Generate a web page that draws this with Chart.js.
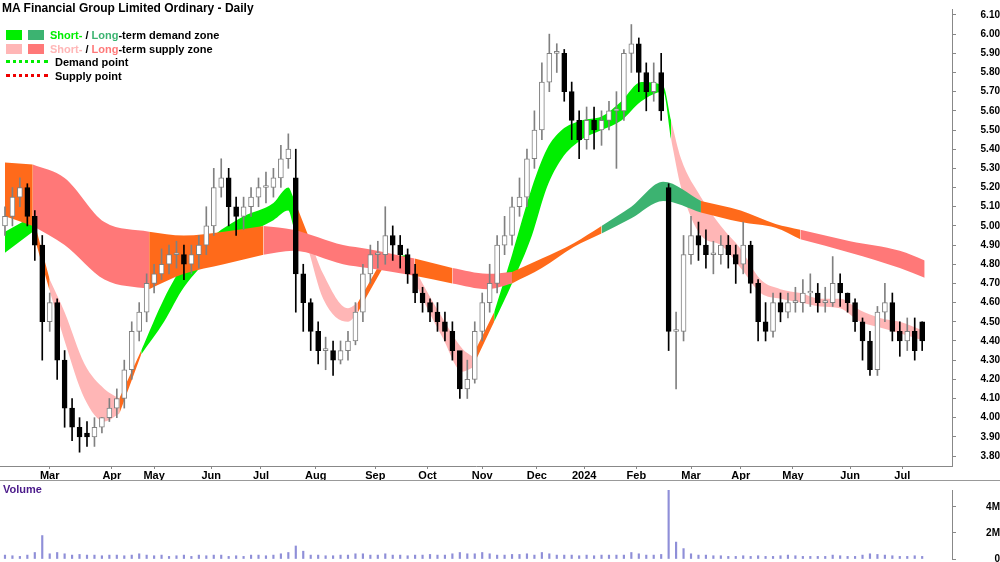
<!DOCTYPE html>
<html>
<head>
<meta charset="utf-8">
<script src="https://cdn.jsdelivr.net/npm/chart.js@4.4.0/dist/chart.umd.min.js"></script>
<style>
  body { margin: 0; background: #fff; font-family: Arial, "Liberation Sans", sans-serif; }
  #wrap { position: relative; width: 1000px; height: 562px; overflow: hidden; }
  #priceBox { position: absolute; left: 0; top: 0; width: 1000px; height: 480px; }
  #volBox { position: absolute; left: 0; top: 481px; width: 1000px; height: 87px; }
  #sep { position: absolute; left: 0; top: 480px; width: 1000px; height: 1px; background: #999; }
  #title { position: absolute; left: 2px; top: 1px; font-size: 12px; font-weight: bold; }
  #legend { position: absolute; left: 6px; top: 29px; font-size: 11px; font-weight: bold; line-height: 13.5px; }
  #legend .sw { display: inline-block; width: 16px; height: 10px; margin-right: 6px; vertical-align: -1px; }
  #legend .dot { display: inline-block; width: 42px; height: 0; border-top: 3px dotted; margin-right: 7px; vertical-align: 3px; }
  #volLabel { position: absolute; left: 3px; top: 483px; font-size: 11px; font-weight: bold; color: #4b1a8a; }
</style>
</head>
<body>
<div id="wrap">
  <div id="priceBox"><canvas id="priceChart"></canvas></div>
  <div id="sep"></div>
  <div id="volBox"><canvas id="volChart"></canvas></div>
  <div id="title">MA Financial Group Limited Ordinary - Daily</div>
  <div id="legend">
    <div><span class="sw" style="background:#00ee00"></span><span class="sw" style="background:#3cb371"></span><span style="color:#00ee00">Short-</span> / <span style="color:#3cb371">Long</span>-term demand zone</div>
    <div><span class="sw" style="background:#ffb6b6"></span><span class="sw" style="background:#ff7878"></span><span style="color:#ffb6b6">Short-</span> / <span style="color:#ff7878">Long</span>-term supply zone</div>
    <div><span class="dot" style="border-color:#00ee00"></span>Demand point</div>
    <div><span class="dot" style="border-color:#ee0000"></span>Supply point</div>
  </div>
  <div id="volLabel">Volume</div>
</div>
<script>
// 蠟燭 (每3個交易日一根)
var opens = [5.00,5.05,5.15,5.20,5.05,4.90,4.50,4.60,4.30,4.05, 3.95,3.92,3.90,3.95,4.00,4.05,4.10,4.25,4.45,4.55,
  4.70,4.75,4.80,4.85,4.85,4.80,4.85,4.90,5.00,5.20, 5.25,5.10,5.05,5.10,5.15,5.20,5.20,5.25,5.35,5.25,
  4.75,4.60,4.45,4.35,4.35,4.30,4.35,4.40,4.55,4.75, 4.85,4.85,4.95,4.90,4.85,4.75,4.65,4.60,4.55,4.50,
  4.45,4.35,4.15,4.20,4.45,4.60,4.70,4.90,4.95,5.10, 5.15,5.35,5.50,5.75,5.90,5.90,5.70,5.55,5.45,5.55,
  5.50,5.55,5.60,5.60,5.90,5.95,5.80,5.70,5.80,5.20, 4.45,4.45,4.85,4.95,4.90,4.85,4.85,4.90,4.85,4.80,
  4.90,4.70,4.50,4.45,4.60,4.55,4.60,4.60,4.65,4.65, 4.60,4.60,4.70,4.65,4.60,4.50,4.40,4.25,4.55,4.60,
  4.45,4.40,4.45,4.50];
var closes = [5.05,5.15,5.20,5.05,4.90,4.50,4.60,4.30,4.05,3.95, 3.90,3.90,3.95,4.00,4.05,4.10,4.25,4.45,4.55,4.70,
  4.75,4.80,4.85,4.85,4.80,4.85,4.90,5.00,5.20,5.25, 5.10,5.05,5.10,5.15,5.20,5.20,5.25,5.35,5.40,4.75,
  4.60,4.45,4.35,4.35,4.30,4.35,4.40,4.55,4.75,4.85, 4.85,4.95,4.90,4.85,4.75,4.65,4.60,4.55,4.50,4.45,
  4.35,4.15,4.20,4.45,4.60,4.70,4.90,4.95,5.10,5.15, 5.35,5.50,5.75,5.90,5.90,5.70,5.55,5.45,5.55,5.50,
  5.55,5.60,5.60,5.90,5.95,5.80,5.70,5.75,5.60,4.45, 4.45,4.85,4.95,4.90,4.85,4.85,4.90,4.85,4.80,4.90,
  4.70,4.50,4.45,4.60,4.55,4.60,4.60,4.65,4.65,4.60, 4.60,4.70,4.65,4.60,4.50,4.40,4.25,4.55,4.60,4.45,
  4.40,4.45,4.35,4.40];
var highs = [5.10,5.20,5.25,5.22,5.08,4.95,4.65,4.62,4.35,4.10, 4.00,3.98,4.00,4.00,4.10,4.15,4.30,4.50,4.60,4.75,
  4.80,4.88,4.90,4.92,4.90,4.90,4.95,5.10,5.30,5.35, 5.30,5.15,5.15,5.20,5.25,5.28,5.30,5.42,5.48,5.40,
  4.80,4.62,4.50,4.42,4.40,4.40,4.45,4.60,4.80,4.90, 4.92,5.10,5.00,4.95,4.88,4.80,4.68,4.62,4.60,4.55,
  4.50,4.30,4.30,4.50,4.65,4.80,4.95,5.05,5.15,5.25, 5.40,5.60,5.85,6.00,5.95,5.92,5.75,5.60,5.62,5.62,
  5.60,5.65,5.70,5.92,6.05,5.98,5.85,5.85,5.90,5.22, 4.55,4.95,5.05,5.02,4.98,4.92,4.95,4.95,4.90,5.02,
  4.92,4.72,4.60,4.65,4.65,4.65,4.68,4.72,4.75,4.70, 4.68,4.84,4.75,4.65,4.62,4.52,4.45,4.58,4.70,4.65,
  4.50,4.52,4.52,4.50];
var lows = [4.95,5.00,5.10,5.00,4.82,4.30,4.45,4.20,3.95,3.88, 3.82,3.85,3.85,3.92,3.98,4.00,4.05,4.20,4.40,4.50,
  4.65,4.72,4.75,4.78,4.72,4.75,4.78,4.85,4.95,5.15, 5.00,4.95,4.98,5.05,5.10,5.12,5.15,5.20,5.30,4.55,
  4.45,4.35,4.28,4.25,4.22,4.28,4.30,4.38,4.50,4.70, 4.78,4.80,4.82,4.78,4.70,4.60,4.55,4.50,4.45,4.40,
  4.30,4.10,4.10,4.18,4.40,4.55,4.65,4.85,4.90,5.05, 5.10,5.30,5.45,5.70,5.80,5.65,5.45,5.35,5.40,5.40,
  5.42,5.50,5.30,5.55,5.80,5.70,5.60,5.65,5.55,4.35, 4.15,4.40,4.80,4.82,4.78,4.75,4.80,4.78,4.70,4.75,
  4.65,4.40,4.40,4.42,4.50,4.52,4.55,4.55,4.58,4.55, 4.55,4.58,4.58,4.55,4.45,4.30,4.22,4.22,4.50,4.40,
  4.32,4.35,4.30,4.35];
var volumes = [0.3,0.25,0.2,0.3,0.5,1.8,0.4,0.5,0.4,0.3, 0.35,0.3,0.3,0.25,0.3,0.3,0.25,0.3,0.4,0.3,
  0.25,0.3,0.2,0.25,0.3,0.2,0.3,0.25,0.3,0.3, 0.2,0.25,0.2,0.3,0.3,0.25,0.3,0.4,0.5,1.0,
  0.6,0.3,0.3,0.25,0.25,0.3,0.3,0.4,0.4,0.3, 0.3,0.4,0.3,0.3,0.25,0.3,0.3,0.35,0.3,0.3,
  0.4,0.5,0.4,0.4,0.5,0.4,0.3,0.3,0.35,0.35, 0.4,0.3,0.5,0.4,0.3,0.3,0.3,0.25,0.3,0.25,
  0.3,0.3,0.3,0.3,0.5,0.4,0.3,0.3,0.35,6.3, 1.3,0.8,0.4,0.3,0.3,0.25,0.25,0.2,0.2,0.25,
  0.2,0.25,0.2,0.2,0.25,0.3,0.25,0.2,0.2,0.2, 0.2,0.3,0.25,0.2,0.2,0.3,0.4,0.35,0.3,0.25,
  0.2,0.2,0.25,0.2];
var candleStep = 3;

// 短期區帶 (交易日, 上緣, 下緣, 區帶類型)
var shortDays = [0,11.2,18,24,32,40,46,54.8,64,72,84,96,108,114,116,122,128,138,142,152,162,168,176,184,188,196.8,
  204,212,218,224,232,240,248,256,264.8,268,272,280,288,296,304,312,320,328,336,344,352,360,370];
var shortUpper = [4.97,5.05,4.72,4.55,4.28,4.15,4.10,4.35,4.62,4.80,4.95,5.05,5.12,5.20,5.15,4.95,4.75,4.57,4.60,4.83,
  4.85,4.70,4.52,4.36,4.32,4.55,4.85,5.20,5.40,5.50,5.55,5.57,5.65,5.75,5.73,5.55,5.35,5.15,5.00,4.88,4.72,4.67,4.65,
  4.62,4.62,4.56,4.52,4.50,4.45];
var shortLower = [4.86,4.97,4.66,4.40,4.10,3.98,4.02,4.33,4.50,4.68,4.85,4.95,5.03,5.08,5.00,4.88,4.62,4.50,4.55,4.78,
  4.80,4.62,4.42,4.24,4.26,4.50,4.70,4.95,5.20,5.35,5.45,5.50,5.55,5.65,5.70,5.45,5.20,4.95,4.90,4.78,4.65,4.62,4.60,
  4.58,4.57,4.50,4.47,4.44,4.40];
var shortZone = "dtsssstdddddddtssstdsssstddddddddddsssssssssssssss";

// 長期區帶
var longDays = [0,11.2,24,40,58,72,88,104,116,136,146,164.8,180,194,204,216,228.8,240,252,264.8,280,296,310,320,340,360,370];
var longUpper = [5.33,5.32,5.25,5.02,4.97,4.95,4.97,5.00,4.98,4.90,4.88,4.83,4.78,4.75,4.76,4.83,4.91,5.00,5.10,5.23,5.13,5.08,5.01,4.98,4.92,4.87,4.82];
var longLower = [5.05,5.00,4.90,4.72,4.67,4.75,4.80,4.85,4.87,4.80,4.78,4.74,4.70,4.67,4.70,4.78,4.89,4.96,5.04,5.13,5.07,5.02,4.99,4.93,4.86,4.78,4.73];
var longZone = "tssstttsssstsstttDDDtttsssss";

var monthDays = [18,43,60,83,103,125,149,170,192,214,233,254,276,296,317,340,361];
var monthLabels = ["Mar","Apr","May","Jun","Jul","Aug","Sep","Oct","Nov","Dec","2024","Feb","Mar","Apr","May","Jun","Jul"];
var priceTicks = [];
for (var p = 38; p <= 61; p++) priceTicks.push(p / 10);

var zoneColors = { d: "#00ee00", D: "#3cb371", s: "#ffb6b6", S: "#ff7878", t: "#ff6a1a" };

function bandDatasets(days, upper, lower, zones, supplyKey) {
  var sets = [];
  var start = 0;
  for (var k = 1; k <= days.length - 1; k++) {
    if (k === days.length - 1 || zones[k] !== zones[start]) {
      var z = zones[start] === "s" ? supplyKey : zones[start];
      var up = [], lo = [];
      for (var j = start; j <= k; j++) {
        up.push({ x: days[j], y: upper[j] });
        lo.push({ x: days[j], y: lower[j] });
      }
      var col = zoneColors[z];
      sets.push({ type: "line", data: up, borderWidth: 0, borderColor: col, backgroundColor: col,
        pointRadius: 0, fill: "+1", cubicInterpolationMode: "monotone", order: 10 });
      sets.push({ type: "line", data: lo, borderWidth: 0, borderColor: col, backgroundColor: col,
        pointRadius: 0, fill: false, cubicInterpolationMode: "monotone", order: 10 });
      start = k;
    }
  }
  return sets;
}

var wicks = [], bodies = [], bodyFill = [], bodyLine = [], wickCol = [];
for (var i = 0; i < closes.length; i++) {
  var up = closes[i] >= opens[i];
  wicks.push({ x: i * candleStep, y: [lows[i], highs[i]] });
  var a = Math.min(opens[i], closes[i]), b = Math.max(opens[i], closes[i]);
  if (b - a < 0.01) b = a + 0.01;
  bodies.push({ x: i * candleStep, y: [a, b] });
  bodyFill.push(up ? "#ffffff" : "#000000");
  bodyLine.push(up ? "#808080" : "#000000");
  wickCol.push(up ? "#808080" : "#000000");
}

var datasets = []
  .concat(bandDatasets(longDays, longUpper, longLower, longZone, "S"))
  .concat(bandDatasets(shortDays, shortUpper, shortLower, shortZone, "s"));
datasets.push({ type: "bar", data: wicks, backgroundColor: wickCol, barThickness: 1, grouped: false, order: 2 });
datasets.push({ type: "bar", data: bodies, backgroundColor: bodyFill, borderColor: bodyLine, borderWidth: 1,
  borderSkipped: false, barThickness: 5, grouped: false, order: 1 });

var xMin = -2, xMax = 381;
var fitY = function (axis) { axis.width = 48; };

new Chart(document.getElementById("priceChart").getContext("2d"), {
  data: { datasets: datasets },
  options: {
    responsive: true, maintainAspectRatio: false, animation: false,
    layout: { padding: 0 },
    plugins: { legend: { display: false }, tooltip: { enabled: false } },
    scales: {
      x: {
        type: "linear", min: xMin, max: xMax, offset: false,
        afterFit: function (axis) { axis.height = 14; },
        afterBuildTicks: function (axis) { axis.ticks = monthDays.map(function (v) { return { value: v }; }); },
        ticks: { autoSkip: false, maxRotation: 0, padding: 0, color: "#000",
          font: { size: 11, weight: "bold", family: "Arial" },
          callback: function (v) { return monthLabels[monthDays.indexOf(v)]; } },
        grid: { drawOnChartArea: false, tickLength: 3, color: "#888", offset: false },
        border: { color: "#888" }
      },
      y: {
        position: "right", min: 3.748, max: 6.131, afterFit: fitY,
        afterBuildTicks: function (axis) { axis.ticks = priceTicks.map(function (v) { return { value: v }; }); },
        ticks: { autoSkip: false, padding: 3, crossAlign: "far", color: "#000", font: { size: 10, weight: "bold", family: "Arial" },
          callback: function (v) { return v.toFixed(2); } },
        grid: { drawOnChartArea: false, tickLength: 4, color: "#888" },
        border: { color: "#888" }
      }
    }
  }
});

new Chart(document.getElementById("volChart").getContext("2d"), {
  type: "bar",
  data: { datasets: [{ data: volumes.map(function (v, i) { return { x: i * candleStep, y: v }; }),
    backgroundColor: "#8f8fd8", barThickness: 1.5 }] },
  options: {
    responsive: true, maintainAspectRatio: false, animation: false,
    layout: { padding: 0 },
    plugins: { legend: { display: false }, tooltip: { enabled: false } },
    scales: {
      x: { type: "linear", min: xMin, max: xMax, offset: false, display: false },
      y: {
        position: "right", min: 0, max: 5.3, afterFit: fitY,
        afterBuildTicks: function (axis) { axis.ticks = [0, 2, 4].map(function (v) { return { value: v }; }); },
        ticks: { padding: 3, crossAlign: "far", color: "#000", font: { size: 10, weight: "bold", family: "Arial" },
          callback: function (v) { return v === 0 ? "0" : v + "M"; } },
        grid: { drawOnChartArea: false, tickLength: 4, color: "#888" },
        border: { color: "#888" }
      }
    }
  }
});
</script>
</body>
</html>
